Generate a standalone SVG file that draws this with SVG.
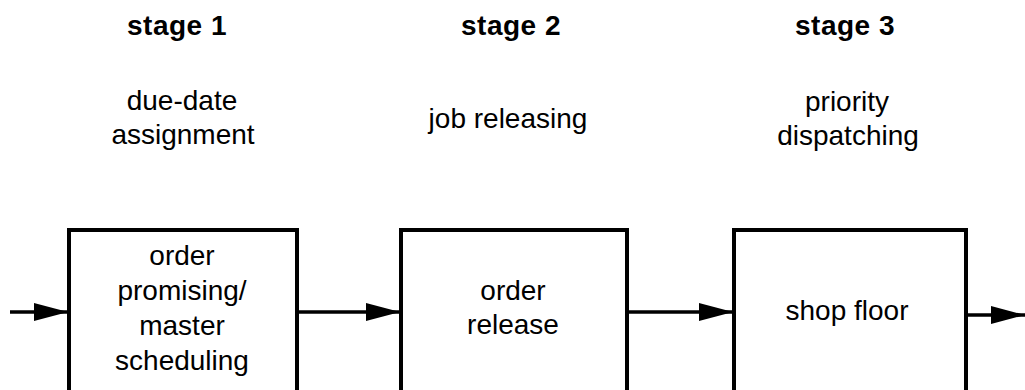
<svg xmlns="http://www.w3.org/2000/svg" width="1025" height="390" viewBox="0 0 1025 390">
  <style>
    .head { font-family: "Liberation Sans", Arial, sans-serif; font-weight: bold; font-size: 28px; letter-spacing: 0.5px; fill: #000; text-anchor: middle; }
    .lbl { font-family: "Liberation Sans", Arial, sans-serif; font-size: 28px; fill: #000; text-anchor: middle; }
    .box { fill: #fff; stroke: #000; stroke-width: 4; }
    .flow { stroke: #000; stroke-width: 3.5; fill: none; marker-end: url(#arrow); }
  </style>
  <defs>
    <marker id="arrow" viewBox="0 0 34 18" refX="34" refY="9" markerWidth="34" markerHeight="18" markerUnits="userSpaceOnUse" orient="auto">
      <path d="M0,0 L34,9 L0,18 Z" fill="#000"/>
    </marker>
  </defs>
  <rect width="1025" height="390" fill="#fff"/>

  <!-- stage headings and roles -->
  <g id="stage1-label">
    <text class="head" x="177" y="35">stage 1</text>
    <text class="lbl" x="182" y="110">due-date</text>
    <text class="lbl" x="183" y="144">assignment</text>
  </g>
  <g id="stage2-label">
    <text class="head" x="511" y="35">stage 2</text>
    <text class="lbl" x="508" y="128">job releasing</text>
  </g>
  <g id="stage3-label">
    <text class="head" x="845" y="35">stage 3</text>
    <text class="lbl" x="847" y="111">priority</text>
    <text class="lbl" x="848" y="145">dispatching</text>
  </g>

  <!-- process boxes -->
  <g id="order-promising">
    <rect class="box" x="69" y="230" width="228" height="180"/>
    <text class="lbl" x="182" y="265">order</text>
    <text class="lbl" x="182" y="300">promising/</text>
    <text class="lbl" x="182" y="335">master</text>
    <text class="lbl" x="182" y="370">scheduling</text>
  </g>
  <g id="order-release">
    <rect class="box" x="401" y="230" width="226" height="180"/>
    <text class="lbl" x="513" y="300">order</text>
    <text class="lbl" x="513" y="334">release</text>
  </g>
  <g id="shop-floor">
    <rect class="box" x="734" y="230" width="232" height="180"/>
    <text class="lbl" x="847" y="320">shop floor</text>
  </g>

  <!-- flow connectors -->
  <g id="connectors">
    <line class="flow" x1="10" y1="312" x2="68" y2="312"/>
    <line class="flow" x1="299" y1="312" x2="400" y2="312"/>
    <line class="flow" x1="629" y1="312" x2="733" y2="312"/>
    <line class="flow" x1="968" y1="315" x2="1025" y2="315"/>
  </g>
</svg>
